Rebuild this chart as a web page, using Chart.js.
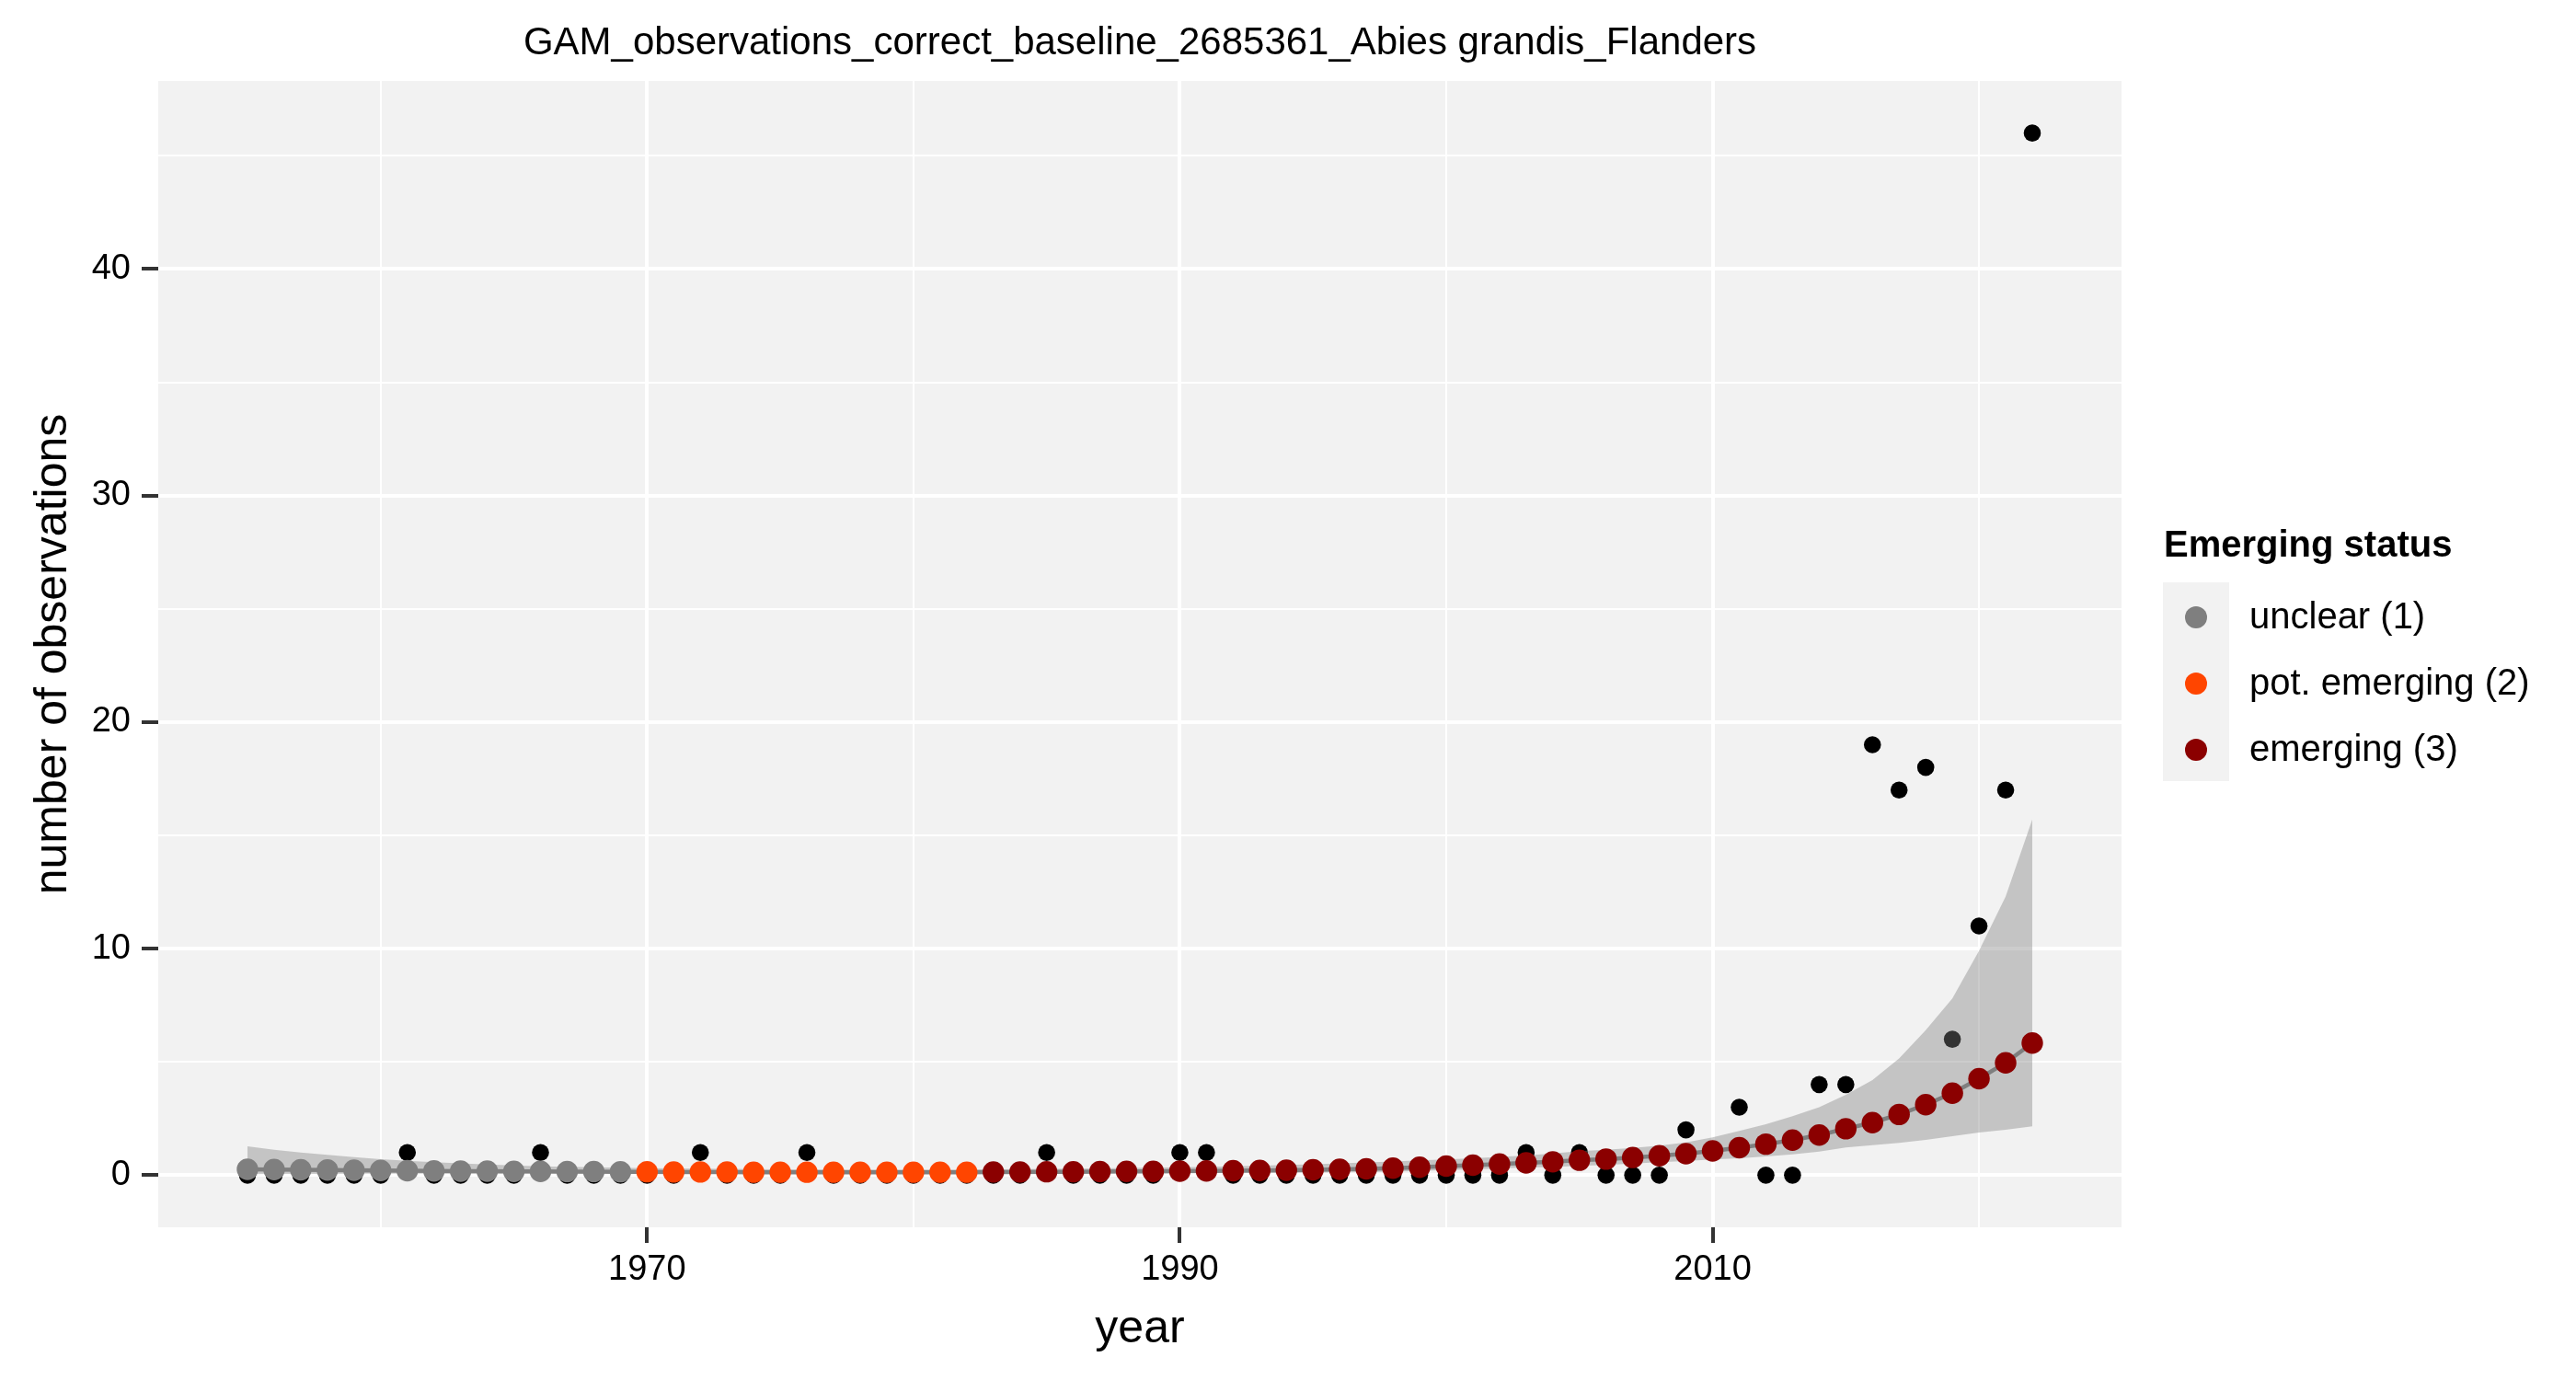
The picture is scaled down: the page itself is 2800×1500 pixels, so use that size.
<!DOCTYPE html>
<html>
<head>
<title>GAM observations - Abies grandis, Flanders</title>
<script src="https://cdn.jsdelivr.net/npm/chart.js"></script>
<style>
  body { margin: 0; background: #ffffff; }
</style>
</head>
<body>
<canvas id="gamChart" width="2800" height="1500"></canvas>
<script>
// years of the time series
const years = [1955, 1956, 1957, 1958, 1959, 1960, 1961, 1962, 1963, 1964, 1965, 1966, 1967, 1968, 1969,
    1970, 1971, 1972, 1973, 1974, 1975, 1976, 1977, 1978, 1979, 1980, 1981, 1982,
    1983, 1984, 1985, 1986, 1987, 1988, 1989, 1990, 1991, 1992, 1993, 1994, 1995, 1996, 1997, 1998, 1999,
    2000, 2001, 2002, 2003, 2004, 2005, 2006, 2007, 2008, 2009, 2010, 2011, 2012, 2013, 2014, 2015,
    2016, 2017, 2018, 2019, 2020, 2021, 2022];

// observed counts (black dots)
const observations = [0, 0, 0, 0, 0, 0, 1, 0, 0, 0, 0, 1, 0, 0, 0,
    0, 0, 1, 0, 0, 0, 1, 0, 0, 0, 0, 0, 0,
    0, 0, 1, 0, 0, 0, 0, 1, 1, 0, 0, 0, 0, 0, 0, 0, 0,
    0, 0, 0, 1, 0, 1, 0, 0, 0, 2, 1, 3, 0, 0, 4, 4,
    19, 17, 18, 6, 11, 17, 46];

// GAM fit (coloured dots + grey line)
const fitted = [0.26, 0.25, 0.24, 0.23, 0.22, 0.21, 0.20, 0.19, 0.18, 0.18, 0.17, 0.17, 0.16, 0.16, 0.15,
    0.15, 0.14, 0.14, 0.14, 0.13, 0.13, 0.13, 0.13, 0.13, 0.13, 0.13, 0.13, 0.13,
    0.14, 0.14, 0.15, 0.15, 0.16, 0.17, 0.17, 0.18, 0.19, 0.20, 0.21, 0.22, 0.24, 0.26, 0.28, 0.31, 0.35,
    0.40, 0.44, 0.49, 0.54, 0.59, 0.66, 0.71, 0.78, 0.86, 0.95, 1.07, 1.21, 1.37, 1.55, 1.77, 2.05,
    2.32, 2.68, 3.11, 3.62, 4.26, 4.96, 5.83];

// confidence band
const upperCI = [1.27, 1.12, 1.00, 0.90, 0.80, 0.71, 0.63, 0.57, 0.52, 0.47, 0.43, 0.39, 0.37, 0.35, 0.33,
    0.31, 0.30, 0.29, 0.28, 0.27, 0.26, 0.26, 0.25, 0.25, 0.25, 0.25, 0.25, 0.25,
    0.26, 0.27, 0.28, 0.29, 0.30, 0.32, 0.33, 0.35, 0.37, 0.39, 0.42, 0.45, 0.48, 0.52, 0.56, 0.60, 0.65,
    0.70, 0.75, 0.81, 0.87, 0.96, 1.06, 1.12, 1.20, 1.30, 1.45, 1.67, 1.95, 2.25, 2.60, 3.00, 3.55,
    4.20, 5.15, 6.40, 7.80, 9.90, 12.3, 15.7];
const lowerCI = [0.050, 0.055, 0.058, 0.060, 0.061, 0.062, 0.063, 0.064, 0.065, 0.066, 0.067, 0.068, 0.068, 0.069, 0.069,
    0.070, 0.070, 0.070, 0.070, 0.070, 0.070, 0.070, 0.070, 0.070, 0.070, 0.070, 0.070, 0.070,
    0.072, 0.075, 0.078, 0.080, 0.083, 0.086, 0.090, 0.093, 0.098, 0.103, 0.105, 0.108, 0.12, 0.13, 0.14, 0.16, 0.19,
    0.23, 0.26, 0.30, 0.34, 0.36, 0.41, 0.45, 0.51, 0.57, 0.62, 0.69, 0.75, 0.83, 0.92, 1.04, 1.22,
    1.32, 1.43, 1.56, 1.72, 1.88, 2.00, 2.16];

// emerging status per year (1 = unclear, 2 = pot. emerging, 3 = emerging)
const status = [1, 1, 1, 1, 1, 1, 1, 1, 1, 1, 1, 1, 1, 1, 1,
    2, 2, 2, 2, 2, 2, 2, 2, 2, 2, 2, 2, 2,
    3, 3, 3, 3, 3, 3, 3, 3, 3, 3, 3, 3, 3, 3, 3, 3, 3,
    3, 3, 3, 3, 3, 3, 3, 3, 3, 3, 3, 3, 3, 3, 3, 3,
    3, 3, 3, 3, 3, 3, 3];

const statusLabels = ['unclear (1)', 'pot. emerging (2)', 'emerging (3)'];
const statusColors = ['#7f7f7f', '#ff4500', '#8b0000'];

const xTicks = [1960, 1970, 1980, 1990, 2000, 2010, 2020];
const xLabelled = [1970, 1990, 2010];
const yTicks = [0, 5, 10, 15, 20, 25, 30, 35, 40, 45];
const yLabelled = [0, 10, 20, 30, 40];

const plotTitle = 'GAM_observations_correct_baseline_2685361_Abies grandis_Flanders';
const legendTitle = 'Emerging status';

const FONT = '"Liberation Sans", Arial, Helvetica, sans-serif';

const toPoints = arr => years.map((yr, i) => ({ x: yr, y: arr[i] }));

// panel background, plot title and legend, drawn like ggplot
const ggDecor = {
    id: 'ggDecor',
    beforeDraw(chart) {
        const { ctx, chartArea: a } = chart;
        ctx.save();
        ctx.fillStyle = '#ffffff';
        ctx.fillRect(0, 0, chart.width, chart.height);
        ctx.fillStyle = '#f2f2f2';
        ctx.fillRect(a.left, a.top, a.right - a.left, a.bottom - a.top);
        ctx.restore();
    },
    afterDraw(chart) {
        const { ctx, chartArea: a } = chart;
        ctx.save();
        // title
        ctx.fillStyle = '#000000';
        ctx.font = '42px ' + FONT;
        ctx.textAlign = 'center';
        ctx.textBaseline = 'alphabetic';
        ctx.fillText(plotTitle, (a.left + a.right) / 2, 59);

        // legend
        ctx.textAlign = 'left';
        ctx.font = 'bold 40px ' + FONT;
        ctx.fillText(legendTitle, 2352, 605);
        ctx.fillStyle = '#f2f2f2';
        ctx.fillRect(2351, 633, 72, 216);
        statusLabels.forEach((lab, i) => {
            const cy = 671 + i * 72;
            ctx.beginPath();
            ctx.arc(2387, cy, 12, 0, Math.PI * 2);
            ctx.fillStyle = statusColors[i];
            ctx.fill();
            ctx.fillStyle = '#000000';
            ctx.font = '40px ' + FONT;
            ctx.textBaseline = 'middle';
            ctx.fillText(lab, 2445, cy + 1);
        });
        ctx.restore();
    }
};

const majorX = v => xLabelled.includes(v);
const majorY = v => yLabelled.includes(v);

const ctx = document.getElementById('gamChart').getContext('2d');
const gamChart = new Chart(ctx, {
    type: 'line',
    data: {
        datasets: [
            {
                label: 'fit',
                data: toPoints(fitted),
                borderColor: '#7f7f7f',
                borderWidth: 4.5,
                pointRadius: 11.7,
                pointBorderWidth: 0,
                pointBackgroundColor: status.map(s => statusColors[s - 1]),
                fill: false,
                tension: 0,
            },
            {
                label: 'upper',
                data: toPoints(upperCI),
                borderWidth: 0,
                pointRadius: 0,
                backgroundColor: 'rgba(127,127,127,0.4)',
                fill: '+1',
                tension: 0,
            },
            {
                label: 'lower',
                data: toPoints(lowerCI),
                borderWidth: 0,
                pointRadius: 0,
                fill: false,
                tension: 0,
            },
            {
                label: 'observations',
                data: toPoints(observations),
                showLine: false,
                pointRadius: 9.3,
                pointBorderWidth: 0,
                pointBackgroundColor: '#000000',
                fill: false,
            },
        ],
    },
    options: {
        responsive: false,
        devicePixelRatio: 1,
        animation: false,
        events: [],
        layout: { padding: { top: 88, right: 494, left: 0, bottom: 0 } },
        plugins: {
            legend: { display: false },
            tooltip: { enabled: false },
        },
        scales: {
            x: {
                type: 'linear',
                min: 1951.65,
                max: 2025.35,
                afterBuildTicks: scale => { scale.ticks = xTicks.map(v => ({ value: v })); },
                afterFit: scale => { scale.height = 166; },
                border: { display: false },
                grid: {
                    color: '#ffffff',
                    lineWidth: c => majorX(c.tick.value) ? 4 : 2,
                    tickLength: 17,
                    tickWidth: 4,
                    tickColor: c => majorX(c.tick.value) ? '#333333' : 'rgba(0,0,0,0)',
                },
                ticks: {
                    autoSkip: false,
                    maxRotation: 0,
                    padding: 7,
                    color: '#000000',
                    font: { family: FONT, size: 38 },
                    callback: v => majorX(v) ? String(v) : '',
                },
                title: {
                    display: true,
                    text: 'year',
                    color: '#000000',
                    font: { family: FONT, size: 50 },
                    padding: { top: 0, bottom: 25 },
                },
            },
            y: {
                min: -2.3,
                max: 48.3,
                afterBuildTicks: scale => { scale.ticks = yTicks.map(v => ({ value: v })); },
                afterFit: scale => { scale.width = 172; },
                border: { display: false },
                grid: {
                    color: '#ffffff',
                    lineWidth: c => majorY(c.tick.value) ? 4 : 2,
                    tickLength: 18,
                    tickWidth: 4,
                    tickColor: c => majorY(c.tick.value) ? '#333333' : 'rgba(0,0,0,0)',
                },
                ticks: {
                    autoSkip: false,
                    padding: 12,
                    color: '#000000',
                    font: { family: FONT, size: 38 },
                    callback: v => majorY(v) ? String(v) : '',
                },
                title: {
                    display: true,
                    text: 'number of observations',
                    color: '#000000',
                    font: { family: FONT, size: 50 },
                    padding: { top: 28, bottom: 0 },
                },
            },
        },
    },
    plugins: [ggDecor],
});
</script>
</body>
</html>
